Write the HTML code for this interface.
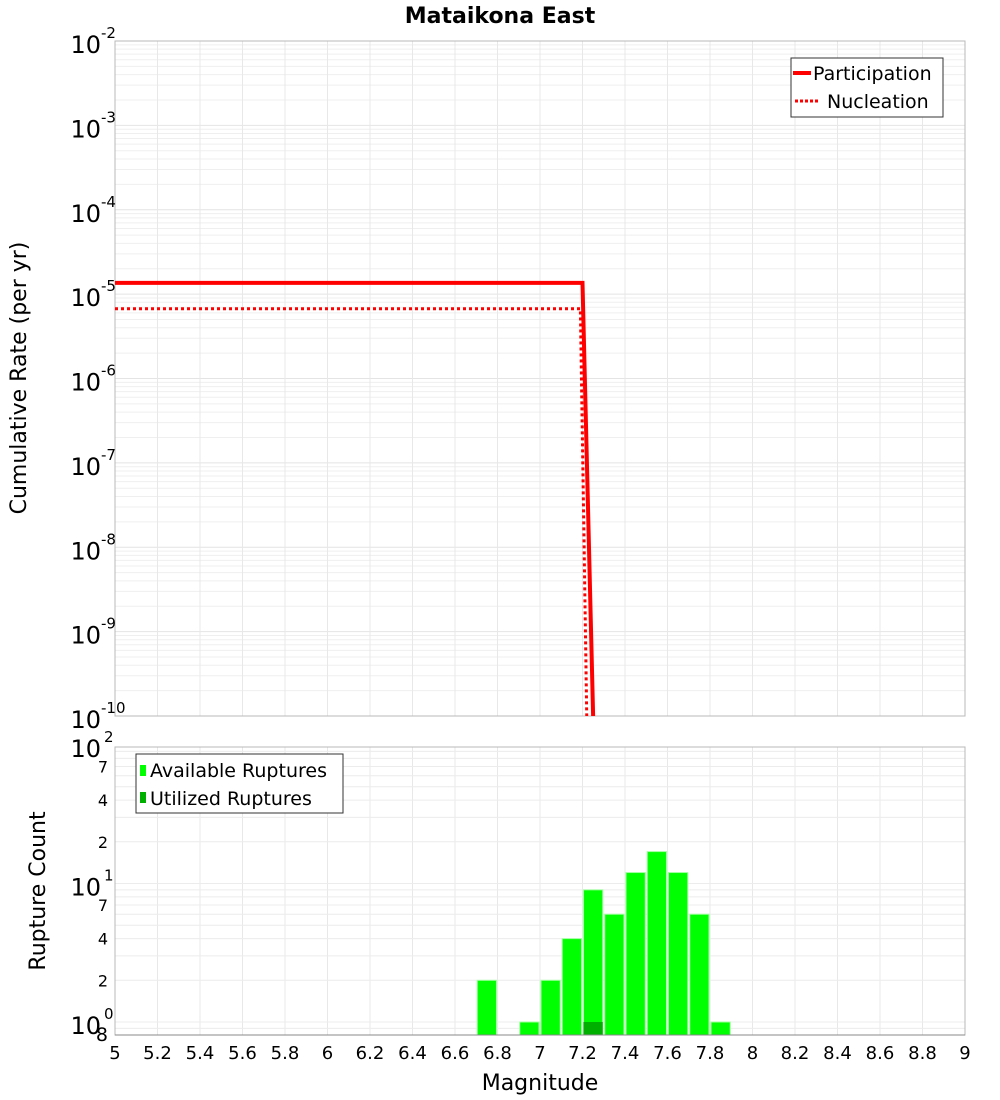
<!DOCTYPE html>
<html><head><meta charset="utf-8"><style>
html,body{margin:0;padding:0;background:#fff}
svg{display:block;font-family:"DejaVu Sans","Liberation Sans",sans-serif}
</style></head><body>
<svg id="chart" width="1000" height="1100" xmlns="http://www.w3.org/2000/svg">
<text x="500" y="23" text-anchor="middle" font-size="22" font-weight="bold">Mataikona East</text>
<g id="topg"></g>
<g id="botg"></g>
</svg>
<script>
const xTicks=[5,5.2,5.4,5.6,5.8,6,6.2,6.4,6.6,6.8,7,7.2,7.4,7.6,7.8,8,8.2,8.4,8.6,8.8,9];
const rateExps=[-2,-3,-4,-5,-6,-7,-8,-9,-10];
const partMag=[5,7.2,7.25];
const partRate=[1.36e-5,1.36e-5,1e-10];
const nuclMag=[5,7.19,7.22];
const nuclRate=[6.7e-6,6.7e-6,1e-10];
const binCenters=[6.75,6.95,7.05,7.15,7.25,7.35,7.45,7.55,7.65,7.75,7.85];
const availCounts=[2,1,2,4,9,6,12,17,12,6,1];
const utilCenters=[7.25];
const utilCounts=[1];
const countTicks=[[100,'10','2'],[70,'7'],[40,'4'],[20,'2'],[10,'10','1'],[7,'7'],[4,'4'],[2,'2'],[1,'10','0'],[0.8,'8']];

const NS='http://www.w3.org/2000/svg';
const X0=115,X1=965;
const xs=m=>X0+(m-5)/4*(X1-X0);
const TY0=41,TY1=716;
const ty=v=>TY0+(-2-Math.log10(v))/8*(TY1-TY0);
const BY0=747,BY1=1035;
const by=v=>1022-Math.log10(v)*138.5;
function mk(p,t,a){const e=document.createElementNS(NS,t);for(const k in a)e.setAttribute(k,a[k]);p.appendChild(e);return e;}
const topG=document.getElementById('topg'),botG=document.getElementById('botg');

for(let e=-10;e<-2;e++)for(let k=1;k<10;k++){const y=ty(k*Math.pow(10,e));
 const l=mk(topG,'line',{x1:X0,x2:X1,y1:y,y2:y,stroke:k==1?'#e4e4e4':'#efefef','stroke-width':1});
 
 }
for(const t of xTicks){const x=xs(t);
 const l=mk(topG,'line',{x1:x,x2:x,y1:TY0,y2:TY1,stroke:'#e8e8e8'});
 
 
 const l2=mk(botG,'line',{x1:x,x2:x,y1:BY0,y2:BY1,stroke:'#e8e8e8'});
 
 }
const f1=mk(topG,'rect',{x:X0,y:TY0,width:X1-X0,height:TY1-TY0,fill:'none',stroke:'#b8b8b8'});


for(const e of rateExps){const y=ty(Math.pow(10,e));
 const t=mk(topG,'text',{x:101,y:y+12,'text-anchor':'end','font-size':24});t.textContent='10';
 
 
 const s=mk(topG,'text',{x:101,y:y-3,'font-size':15});s.textContent=String(e);
 
 }
const yt=mk(topG,'text',{x:0,y:0,'text-anchor':'middle','font-size':22,transform:'translate(26,378) rotate(-90)'});
yt.textContent='Cumulative Rate (per yr)';


const pp=mk(topG,'polyline',{points:partMag.map((m,i)=>xs(m)+','+ty(partRate[i])).join(' '),fill:'none',stroke:'#f00','stroke-width':4});


const np=mk(topG,'polyline',{points:nuclMag.map((m,i)=>xs(m)+','+ty(nuclRate[i])).join(' '),fill:'none',stroke:'#f00','stroke-width':3,'stroke-dasharray':'3,3'});


const lg=mk(topG,'g',{});


mk(lg,'rect',{x:791,y:58,width:152,height:59,fill:'#fff',stroke:'#333'});
mk(lg,'line',{x1:793,x2:811,y1:73,y2:73,stroke:'#f00','stroke-width':4});
mk(lg,'line',{x1:795,x2:820,y1:101,y2:101,stroke:'#f00','stroke-width':3,'stroke-dasharray':'3,2'});
const l1=mk(lg,'text',{x:813,y:80,'font-size':19});l1.textContent='Participation';


const l2=mk(lg,'text',{x:827,y:108,'font-size':19});l2.textContent='Nucleation';



for(let e=0;e<2;e++)for(let k=1;k<10;k++){const y=by(k*Math.pow(10,e));if(y<BY0)continue;
 const l=mk(botG,'line',{x1:X0,x2:X1,y1:y,y2:y,stroke:'#ececec'});
 
 }
{const y=by(0.9);const l=mk(botG,'line',{x1:X0,x2:X1,y1:y,y2:y,stroke:'#ececec'});
 
 }
const f2=mk(botG,'rect',{x:X0,y:BY0,width:X1-X0,height:BY1-BY0,fill:'none',stroke:'#b8b8b8'});


availCounts.forEach((c,i)=>{const x0=xs(binCenters[i]-0.05)+1,x1=xs(binCenters[i]+0.05)-1;
 const r=mk(botG,'rect',{x:x0,y:by(c),width:x1-x0,height:BY1-by(c),fill:'#00ff00',stroke:'#a0ffa0','stroke-width':1});
 
 });
utilCounts.forEach((c,i)=>{const x0=xs(utilCenters[i]-0.05)+1,x1=xs(utilCenters[i]+0.05)-1;
 const r=mk(botG,'rect',{x:x0,y:by(c),width:x1-x0,height:BY1-by(c),fill:'#00b000'});
 
 });
const ax=mk(botG,'line',{x1:X0,x2:X1,y1:BY1,y2:BY1,stroke:'#888'});


for(const t of countTicks){const y=Math.min(by(t[0]),BY1);
 if(t.length==3){const a=mk(botG,'text',{x:101,y:y+12,'text-anchor':'end','font-size':24});a.textContent=t[1];
  
  
  const s=mk(botG,'text',{x:104,y:y-3,'font-size':15});s.textContent=t[2];
  
  }
 else{const a=mk(botG,'text',{x:108,y:y+6,'text-anchor':'end','font-size':t[0]<1?19:16});a.textContent=t[1];
  
  }}
for(const t of xTicks){const a=mk(botG,'text',{x:xs(t),y:1059,'text-anchor':'middle','font-size':18});
 a.textContent=String(t);
 
 }
const xt=mk(botG,'text',{x:540,y:1090,'text-anchor':'middle','font-size':22});xt.textContent='Magnitude';


const yt2=mk(botG,'text',{x:0,y:0,'text-anchor':'middle','font-size':22,transform:'translate(45,891) rotate(-90)'});
yt2.textContent='Rupture Count';


const bl=mk(botG,'g',{});


mk(bl,'rect',{x:136,y:754,width:207,height:59,fill:'#fff',stroke:'#333'});
mk(bl,'rect',{x:140,y:765,width:6,height:11,fill:'#00ff00'});
mk(bl,'rect',{x:140,y:792,width:6,height:11,fill:'#00b000'});
const b1=mk(bl,'text',{x:150,y:777,'font-size':19});b1.textContent='Available Ruptures';


const b2=mk(bl,'text',{x:150,y:805,'font-size':19});b2.textContent='Utilized Ruptures';


</script>
</body></html>
